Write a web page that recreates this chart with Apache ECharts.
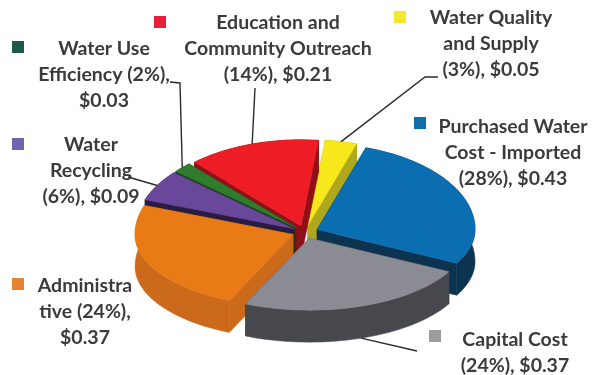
<!DOCTYPE html>
<html>
<head>
<meta charset="utf-8">
<style>html,body{margin:0;padding:0;background:#fff}#chart{width:592px;height:375px}</style>
<script src="https://cdn.jsdelivr.net/npm/echarts@6/dist/echarts.min.js"></script>
</head>
<body>
<div id="chart"></div>
<script>
// Budget shares in dollars, clockwise from the back-right of the pie
const categories = ['Purchased Water Cost - Imported', 'Capital Cost', 'Administrative', 'Water Recycling', 'Water Use Efficiency', 'Education and Community Outreach', 'Water Quality and Supply'];
const dollars = [0.43, 0.37, 0.37, 0.09, 0.03, 0.21, 0.05];
const labelTexts = [
  'Purchased Water\nCost - Imported\n(28%), $0.43',
  'Capital Cost\n(24%), $0.37',
  'Administra\ntive (24%),\n$0.37',
  'Water\nRecycling\n(6%), $0.09',
  'Water Use\nEfficiency (2%),\n$0.03',
  'Education and\nCommunity Outreach\n(14%), $0.21',
  'Water Quality\nand Supply\n(3%), $0.05'
];

// Appearance of each slice: top face, side wall, legend key
const topColors = ['#0b6eb0', '#8b8b94', '#e97b16', '#69479b', '#2f7d2c', '#ee1c25', '#f7e81c'];
const wallColors = ['#0c3450', '#47474e', '#cb6a1b', '#2a1c40', '#1d3f18', '#8f1016', '#b0a81c'];
const keyColors = ['#0f70a8', '#9c9c9c', '#e98232', '#7263b2', '#1d5a4c', '#e8203c', '#f5e62a'];

// Label layout: text centre, legend key centre, leader elbows (from the slice outwards)
const labelCentres = [[513, 153], [515, 353], [85, 312], [91, 171], [104, 75], [278, 49], [491, 44]];
const keyCentres = [[420, 123], [435, 336], [18, 284], [18, 144], [18, 47], [160, 22], [400, 17]];
const leaders = [null, [[417, 351]], null, [[128, 177]], [[180, 83], [170, 82]], [[255, 88]], [[425, 77], [438, 77]]];

// Pie geometry
const cx = 305, cy = 232, rx = 158, ryBack = 86, ryFront = 72;
const explodeX = 13, explodeY = 6.5, depth = 32, startDeg = -72;
const total = dollars.reduce((a, b) => a + b, 0);
const rad = d => d * Math.PI / 180;

function rimPoint(ox, oy, deg) {
  const s = Math.sin(rad(deg));
  return [ox + rx * Math.cos(rad(deg)), oy + s * (s < 0 ? ryBack : ryFront)];
}

function dropped(p) {
  return [p[0], p[1] + depth];
}

function renderSlice(params, api) {
  const i = params.dataIndex;
  let before = 0;
  for (let k = 0; k < i; k++) before += dollars[k];
  const a0 = startDeg + before / total * 360;
  const a1 = a0 + api.value(0) / total * 360;
  const mid = (a0 + a1) / 2;
  const ox = cx + explodeX * Math.cos(rad(mid));
  const oy = cy + explodeY * Math.sin(rad(mid));
  const order = Math.round(Math.sin(rad(mid)) * 100) + 200;

  const arc = [];
  const steps = Math.max(4, Math.ceil((a1 - a0) / 2));
  for (let s = 0; s <= steps; s++) arc.push(rimPoint(ox, oy, a0 + (a1 - a0) * s / steps));
  const apex = [ox, oy];
  const first = arc[0], last = arc[arc.length - 1];

  // Side walls: the two cut faces and the curved outer band
  const wallStyle = { fill: wallColors[i], stroke: wallColors[i], lineWidth: 0.5 };
  const walls = [
    [apex, first, dropped(first), dropped(apex)],
    [apex, last, dropped(last), dropped(apex)],
    arc.concat(arc.map(dropped).reverse())
  ];
  const children = walls.map(points => ({
    type: 'polygon', z2: order, shape: { points }, style: wallStyle
  }));

  children.push({
    type: 'polygon', z2: order + 1,
    shape: { points: [apex].concat(arc) },
    style: { fill: topColors[i], stroke: topColors[i], lineWidth: 0.5 }
  });

  if (leaders[i]) {
    const rim = rimPoint(ox, oy, mid);
    if (Math.sin(rad(mid)) > 0.5) rim[1] += depth;
    children.push({
      type: 'polyline', z2: 900,
      shape: { points: [rim].concat(leaders[i]) },
      style: { fill: null, stroke: '#2b2b2b', lineWidth: 1.4 }
    });
  }
  children.push({
    type: 'rect', z2: 901,
    shape: { x: keyCentres[i][0] - 6, y: keyCentres[i][1] - 6, width: 12, height: 12 },
    style: { fill: keyColors[i] }
  });
  children.push({
    type: 'text', z2: 902,
    style: {
      text: labelTexts[i],
      x: labelCentres[i][0], y: labelCentres[i][1],
      align: 'center', verticalAlign: 'middle',
      fontFamily: 'Lato', fontWeight: 'bold', fontSize: 19.5, lineHeight: 26,
      fill: '#3b3b3b'
    }
  });
  return { type: 'group', children };
}

const chart = echarts.init(document.getElementById('chart'));
chart.setOption({
  animation: false,
  backgroundColor: '#ffffff',
  series: [{
    type: 'custom',
    coordinateSystem: 'none',
    silent: true,
    clip: false,
    renderItem: renderSlice,
    data: dollars.map((v, i) => ({ name: categories[i], value: [v] }))
  }]
});
</script>
</body>
</html>
